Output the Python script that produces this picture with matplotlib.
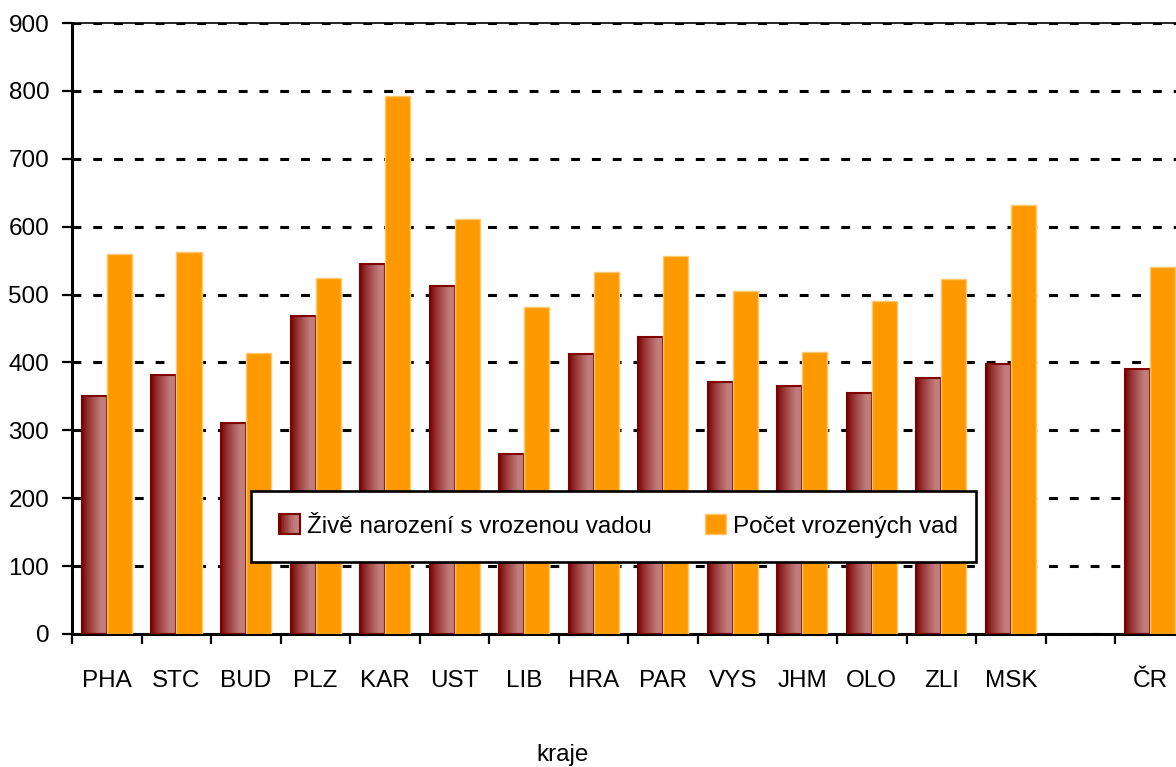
import numpy as np
import matplotlib
matplotlib.use("Agg")
import matplotlib.pyplot as plt
from matplotlib.patches import Patch, Rectangle
from matplotlib.legend_handler import HandlerBase

categories = ["PHA", "STC", "BUD", "PLZ", "KAR", "UST", "LIB", "HRA", "PAR",
              "VYS", "JHM", "OLO", "ZLI", "MSK", "", "ČR"]
zive_narozeni = [350, 381, 311, 469, 545, 513, 265, 413, 438,
                 371, 365, 355, 377, 398, np.nan, 391]
pocet_vad = [560, 563, 414, 525, 793, 611, 482, 533, 557,
             505, 416, 490, 523, 632, np.nan, 540]
yticks = [0, 100, 200, 300, 400, 500, 600, 700, 800, 900]
series_names = ["Živě narození s vrozenou vadou", "Počet vrozených vad"]
xlabel = "kraje"

plt.rcParams["font.family"] = ["Liberation Sans", "DejaVu Sans"]
fs = 17.5

W, H = 1176, 767
fig = plt.figure(figsize=(W / 100, H / 100), dpi=100)
ax = fig.add_axes([72.2 / W, 1 - 634 / H, 1112.5 / W, 611 / H])

x = np.arange(len(categories))
bw = 0.36
maroon_x = x - bw / 2
orange_x = x + bw / 2

# horizontal gradient for the maroon bars
n = 64
t = np.linspace(0, 1, n)
prof = np.clip(t / 0.75, 0, 1) ** 0.8
dark = np.array([0.47, 0.0, 0.0])
light = np.array([0.76, 0.49, 0.49])
grad = dark[None, :] + (light - dark)[None, :] * prof[:, None]

for xi, v in zip(maroon_x, zive_narozeni):
    if np.isnan(v):
        continue
    ax.imshow(grad[None, :, :], extent=[xi - bw / 2, xi + bw / 2, 0, v],
              aspect="auto", interpolation="bilinear", zorder=2)
ax.bar(maroon_x, zive_narozeni, width=bw, fill=False, edgecolor="#800000",
       linewidth=1.5, zorder=3)
ax.bar(orange_x, pocet_vad, width=bw, color="#FF9900", edgecolor="#FFC870",
       linewidth=1.0, zorder=3)

ax.set_xlim(-0.5, len(categories) - 0.5)
ax.set_ylim(0, 900)
ax.set_yticks(yticks)
ax.set_yticklabels([str(v) for v in yticks], fontsize=fs)
ax.set_xticks(x)
ax.set_xticklabels(categories, fontsize=fs)
ax.set_xticks(np.arange(-0.5, len(categories)), minor=True)
ax.tick_params(axis="x", which="major", length=0, pad=25.6)
ax.tick_params(axis="x", which="minor", length=7.2, width=1.6, direction="out")
ax.tick_params(axis="y", length=7.2, width=1.6, direction="out", pad=9.4)

ax.set_axisbelow(True)
ax.yaxis.grid(True, color="black", linewidth=2.2,
              linestyle=(0, (2.9, 3.9)))
ax.spines["right"].set_visible(False)
ax.spines["top"].set_linewidth(1.2)
ax.spines["left"].set_linewidth(2.2)
ax.spines["bottom"].set_linewidth(2.2)

fig.text(562.5 / W, 1 - 761 / H, xlabel, fontsize=fs, ha="center",
         va="baseline")

# legend box
frame = Rectangle((251 / W, 1 - 562 / H), 725 / W, 71 / H,
                  transform=fig.transFigure, facecolor="white",
                  edgecolor="black", linewidth=1.9, zorder=4)
fig.patches.append(frame)


class GradientHandler(HandlerBase):
    def create_artists(self, legend, orig_handle, xdescent, ydescent,
                       width, height, fontsize, trans):
        arts = []
        k = 12
        for i in range(k):
            c = grad[int(i * (n - 1) / (k - 1))]
            r = Rectangle((-xdescent + width * i / k, -ydescent), width / k,
                          height, facecolor=c, edgecolor="none",
                          transform=trans)
            arts.append(r)
        arts.append(Rectangle((-xdescent, -ydescent), width, height,
                              fill=False, edgecolor="#800000", linewidth=1.5,
                              transform=trans))
        return arts


h1 = Patch(facecolor="#A04848", edgecolor="#800000", linewidth=1.5)
h2 = Patch(facecolor="#FF9900", edgecolor="#FFC870", linewidth=1.0)
leg = fig.legend([h1, h2], series_names, loc="center left",
                 bbox_to_anchor=(279 / W, 1 - 526 / H),
                 ncol=2, fontsize=fs, frameon=False,
                 borderpad=0, handlelength=0.86, handleheight=0.86,
                 handletextpad=0.29, borderaxespad=0, columnspacing=2.2,
                 handler_map={h1: GradientHandler()})
leg.set_zorder(5)

fig.savefig("out.png", dpi=100)
